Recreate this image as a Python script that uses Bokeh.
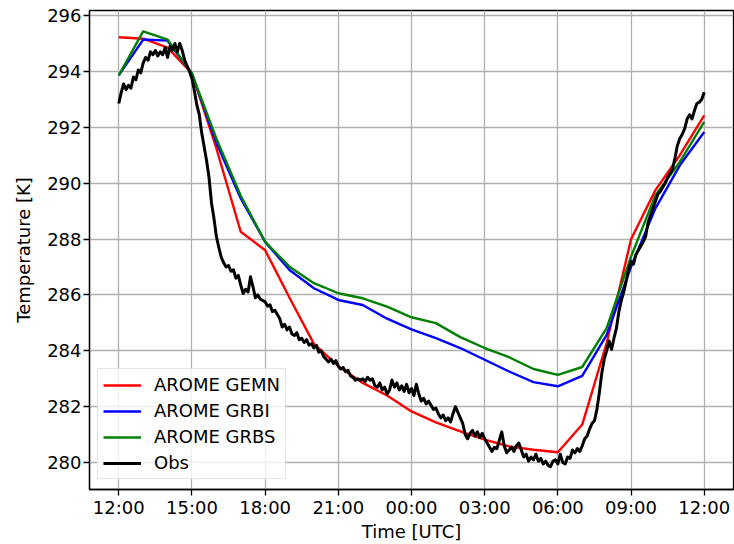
from datetime import datetime, timedelta

from bokeh.embed import file_html
from bokeh.models import (ColumnDataSource, DatetimeTickFormatter, FixedTicker,
                          Legend, LegendItem, Range1d)
from bokeh.plotting import figure
from bokeh.resources import INLINE

# ---- data -------------------------------------------------------------
start = datetime(2022, 7, 1, 12, 0)

# hourly model output (hours after start)
model_hours = list(range(25))
arome_gemn = [295.22, 295.17, 294.85, 293.93, 291.25, 288.26, 287.60, 285.90,
              284.25, 283.45, 282.85, 282.40, 281.83, 281.44, 281.12, 280.82,
              280.58, 280.46, 280.37, 281.36, 284.28, 287.99, 289.75, 291.00,
              292.43]
arome_grbi = [293.86, 295.14, 295.10, 293.92, 291.45, 289.45, 287.90, 286.89,
              286.24, 285.82, 285.64, 285.15, 284.77, 284.45, 284.10, 283.68,
              283.26, 282.88, 282.73, 283.10, 284.57, 287.01, 289.10, 290.64,
              291.83]
arome_grbs = [293.86, 295.43, 295.14, 293.92, 291.60, 289.55, 287.90, 287.01,
              286.42, 286.06, 285.88, 285.58, 285.20, 284.99, 284.49, 284.10,
              283.77, 283.35, 283.14, 283.42, 284.81, 287.37, 289.57, 290.76,
              292.19]

# station observations, every 6 minutes
obs_temp = [
    292.85, 293.25, 293.55, 293.35, 293.50, 293.40, 293.80, 293.70, 294.05, 293.95,
    294.30, 294.50, 294.40, 294.70, 294.60, 294.75, 294.55, 294.70, 294.60, 294.85,
    294.50, 294.90, 294.75, 295.00, 294.70, 295.00, 294.75, 294.40, 294.20, 294.00,
    293.75, 293.30, 292.80, 292.45, 291.80, 291.30, 290.80, 290.20, 289.30, 288.75,
    288.10, 287.70, 287.35, 287.15, 287.00, 287.05, 286.85, 286.90, 286.60, 286.70,
    286.35, 286.05, 286.20, 286.10, 286.65, 286.30, 285.90, 286.00, 285.85, 285.80,
    285.75, 285.60, 285.65, 285.40, 285.45, 285.30, 285.15, 284.85, 284.95, 284.75,
    284.85, 284.60, 284.55, 284.65, 284.40, 284.45, 284.30, 284.40, 284.20, 284.25,
    284.10, 284.20, 283.95, 284.00, 283.80, 283.70, 283.60, 283.70, 283.55, 283.65,
    283.45, 283.35, 283.40, 283.25, 283.30, 283.10, 283.05, 282.95, 283.00, 282.95,
    283.00, 282.90, 283.05, 282.95, 283.00, 282.75, 282.70, 282.85, 282.60, 282.70,
    282.45, 282.60, 282.95, 282.70, 282.85, 282.60, 282.75, 282.55, 282.80, 282.50,
    282.65, 282.40, 282.80, 282.45, 282.20, 282.30, 282.10, 282.20, 282.05, 281.90,
    281.95, 281.75, 281.60, 281.70, 281.50, 281.60, 281.45, 281.75, 282.00, 281.80,
    281.60, 281.40, 281.00, 280.85, 281.05, 281.15, 280.95, 281.10, 280.90, 281.05,
    280.85, 280.70, 280.55, 280.40, 280.55, 280.50, 280.80, 281.10, 280.60, 280.35,
    280.45, 280.55, 280.40, 280.60, 280.70, 280.45, 280.20, 280.30, 280.05, 280.20,
    280.10, 280.30, 280.05, 280.15, 279.95, 280.05, 279.90, 279.85, 280.05, 280.10,
    279.95, 280.30, 280.00, 279.95, 280.20, 280.15, 280.45, 280.35, 280.50, 280.40,
    280.60, 280.85, 280.95, 281.20, 281.40, 281.50, 281.90, 282.50, 283.20, 283.70,
    284.00, 284.35, 284.05, 284.45, 284.80, 285.40, 285.80, 286.10, 286.50, 286.90,
    287.20, 287.10, 287.45, 287.60, 287.75, 287.90, 288.10, 288.60, 288.85, 289.10,
    289.35, 289.60, 289.70, 289.85, 290.00, 290.20, 290.35, 290.50, 290.90, 291.35,
    291.60, 291.75, 291.95, 292.30, 292.45, 292.30, 292.60, 292.85, 292.90, 293.00,
    293.25,
]
obs_step_minutes = 6

tick_hours = [0, 3, 6, 9, 12, 15, 18, 21, 24]
temp_ticks = [280, 282, 284, 286, 288, 290, 292, 294, 296]

# ---- sources ---------------------------------------------------------
model_src = ColumnDataSource(dict(
    t=[start + timedelta(hours=h) for h in model_hours],
    gemn=arome_gemn, grbi=arome_grbi, grbs=arome_grbs,
))
obs_src = ColumnDataSource(dict(
    t=[start + timedelta(minutes=obs_step_minutes * i) for i in range(len(obs_temp))],
    temp=obs_temp,
))

FONT = "DejaVu Sans"
FS = "18px"

p = figure(width=734, height=544, x_axis_type="datetime",
           output_backend="svg", toolbar_location=None,
           min_border_left=89, min_border_right=1,
           min_border_top=10, min_border_bottom=54)

p.x_range = Range1d(start - timedelta(hours=1.2), start + timedelta(hours=25.2))
p.y_range = Range1d(279.036, 296.18)

# series
common = dict(line_width=2.4, line_join="round")
r_gemn = p.line("t", "gemn", source=model_src, color="#ff0000", **common)
r_grbi = p.line("t", "grbi", source=model_src, color="#0000ff", **common)
r_grbs = p.line("t", "grbs", source=model_src, color="#008000", **common)
r_obs = p.line("t", "temp", source=obs_src, color="black", line_width=3,
               line_join="round")

# axes
def ms(h):
    return (start + timedelta(hours=h)).timestamp() * 1000.0

p.xaxis.ticker = FixedTicker(ticks=[ms(h) for h in tick_hours])
fmt = "%H:%M"
p.xaxis.formatter = DatetimeTickFormatter(
    microseconds=fmt, milliseconds=fmt, seconds=fmt, minsec=fmt, minutes=fmt,
    hourmin=fmt, hours=fmt, days=fmt, months=fmt, years=fmt)
p.yaxis.ticker = FixedTicker(ticks=temp_ticks)

p.xaxis.axis_label = "Time [UTC]"
p.yaxis.axis_label = "Temperature [K]"
for ax in (p.xaxis, p.yaxis):
    ax.axis_label_text_font = FONT
    ax.axis_label_text_font_size = FS
    ax.axis_label_text_font_style = "normal"
    ax.axis_label_text_color = "black"
    ax.major_label_text_font = FONT
    ax.major_label_text_font_size = FS
    ax.major_label_text_color = "black"
    ax.axis_line_color = "black"
    ax.axis_line_width = 1.3
    ax.major_tick_line_color = "black"
    ax.major_tick_line_width = 1.3
    ax.major_tick_out = 6
    ax.major_tick_in = 0
    ax.minor_tick_line_color = None
p.xaxis.major_label_standoff = 1
p.xaxis.axis_label_standoff = 0
p.yaxis.major_label_standoff = 2
p.yaxis.axis_label_standoff = 10

p.outline_line_color = "black"
p.outline_line_width = 1.3

for g in (p.xgrid, p.ygrid):
    g.grid_line_color = "#b0b0b0"
    g.grid_line_width = 1.3

legend = Legend(
    items=[LegendItem(label="AROME GEMN", renderers=[r_gemn]),
           LegendItem(label="AROME GRBI", renderers=[r_grbi]),
           LegendItem(label="AROME GRBS", renderers=[r_grbs]),
           LegendItem(label="Obs", renderers=[r_obs])],
    location=(8, 10),
    label_text_font=FONT, label_text_font_size=FS, label_text_color="black",
    glyph_width=38, glyph_height=20, label_standoff=13,
    padding=5, spacing=5, margin=0,
    border_line_color="#cccccc", border_line_width=1.3,
    background_fill_color="white", background_fill_alpha=0.8,
)
p.add_layout(legend, "center")

open("out.html", "w").write(file_html(p, INLINE))
